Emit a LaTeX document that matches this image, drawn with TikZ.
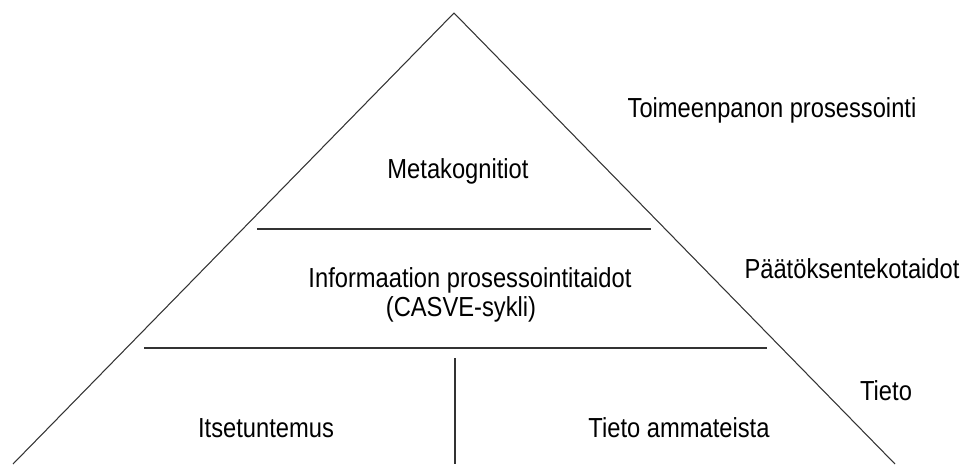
\documentclass[tikz,border=0pt]{standalone}
\usepackage{fontspec}
\setmainfont{Liberation Sans}
\usepackage{graphicx}
\usepackage{tikz}

% slightly taller glyphs, as in the reference
\newcommand{\lbltext}[1]{\scalebox{1}[1.16]{#1}}

\tikzset{
  edge/.style={line width=0.6pt, black!80},
  label/.style={font=\fontsize{13.5}{16}\selectfont, anchor=base, inner sep=0pt}
}

\begin{document}
\begin{tikzpicture}[x=0.02cm, y=-0.02cm]
  % Fix picture size
  \useasboundingbox (0,0) rectangle (963,464);

  % Define triangle vertices
  \coordinate (A) at (13,464);
  \coordinate (B) at (895,464);
  \coordinate (C) at (454,13);

  % Triangle sides (no base)
  \draw[edge] (A) -- (C) -- (B);

  % Level dividers
  \coordinate (L1a) at (257,229);
  \coordinate (L1b) at (651,229);
  \coordinate (L2a) at (144,348);
  \coordinate (L2b) at (767,348);
  \coordinate (V1) at (455,358);
  \coordinate (V2) at (455,464);
  \draw[edge] (L1a) -- (L1b);
  \draw[edge] (L2a) -- (L2b);
  \draw[edge] (V1) -- (V2);

  % Labels inside the triangle
  \node[label] (meta) at (458,178) {\lbltext{Metakognitiot}};
  \node[label] (info) at (470,287) {\lbltext{Informaation prosessointitaidot}};
  \node[label] (casve) at (461,316) {\lbltext{(CASVE-sykli)}};
  \node[label] (itse) at (266,437) {\lbltext{Itsetuntemus}};
  \node[label] (amm) at (679,437) {\lbltext{Tieto ammateista}};

  % Labels on the right
  \node[label] (toim) at (772,117) {\lbltext{Toimeenpanon prosessointi}};
  \node[label] (paat) at (852,278) {\lbltext{Päätöksentekotaidot}};
  \node[label] (tieto) at (886,400) {\lbltext{Tieto}};
\end{tikzpicture}
\end{document}
